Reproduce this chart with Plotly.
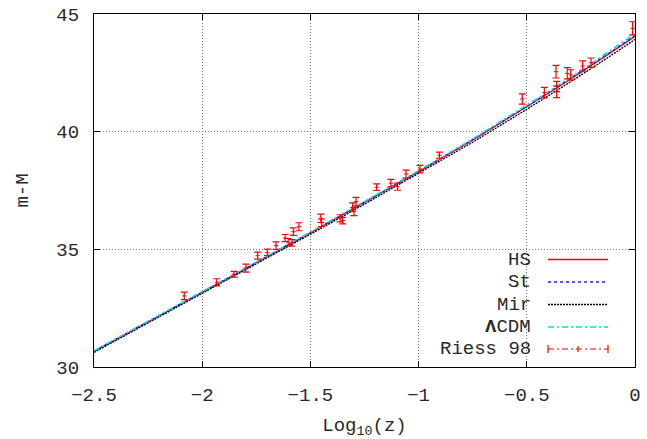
import plotly.graph_objects as go

# ---- model curves ----
x_model = [-2.5, -2.25, -2.0, -1.75, -1.5, -1.25, -1.0, -0.75, -0.5, -0.375, -0.25, -0.125, 0.0]
hs_mu   = [30.66, 31.91, 33.17, 34.43, 35.70, 36.99, 38.30, 39.64, 41.05, 41.78, 42.52, 43.27, 44.05]
st_mu   = [30.67, 31.92, 33.18, 34.44, 35.71, 36.99, 38.31, 39.66, 41.07, 41.80, 42.55, 43.30, 44.08]
mir_mu  = [30.62, 31.87, 33.12, 34.38, 35.64, 36.92, 38.22, 39.55, 40.95, 41.67, 42.40, 43.15, 43.92]
lcdm_mu = [30.69, 31.94, 33.20, 34.46, 35.73, 37.02, 38.34, 39.69, 41.11, 41.85, 42.60, 43.37, 44.16]

# ---- Riess 98 supernovae ----
riess_logz = [-2.083, -1.933, -1.853, -1.798, -1.744, -1.699, -1.659, -1.617, -1.603, -1.585,
              -1.579, -1.553, -1.452, -1.448, -1.363, -1.351, -1.305, -1.299, -1.289, -1.194,
              -1.128, -1.097, -1.058, -0.994, -0.904, -0.521, -0.419, -0.365, -0.362, -0.362,
              -0.313, -0.297, -0.242, -0.203, -0.011]
riess_mu = [33.02, 33.60, 33.94, 34.20, 34.73, 34.87, 35.16, 35.48, 35.31, 35.27,
            35.75, 35.96, 36.32, 36.13, 36.32, 36.22, 36.79, 36.60, 37.03, 37.64,
            37.81, 37.66, 38.20, 38.41, 39.00, 41.39, 41.66, 42.55, 41.92, 41.70,
            42.48, 42.41, 42.79, 42.93, 44.39]
riess_err = [0.16, 0.15, 0.12, 0.17, 0.15, 0.14, 0.16, 0.15, 0.15, 0.14,
             0.16, 0.17, 0.18, 0.16, 0.15, 0.14, 0.18, 0.17, 0.18, 0.14,
             0.16, 0.15, 0.17, 0.16, 0.13, 0.22, 0.22, 0.27, 0.22, 0.25,
             0.24, 0.22, 0.22, 0.20, 0.28]

x_ticks = [-2.5, -2.0, -1.5, -1.0, -0.5, 0.0]
y_ticks = [30, 35, 40, 45]

legend_labels = ["HS", "St", "Mir", "<b>Λ</b>CDM", "Riess 98"]

FONT = "Liberation Mono, Courier New, monospace"
TXT = "#2a2a2a"
RED = "#ff0000"
BLUE = "#2020ff"
CYAN = "#00e0e0"

fig = go.Figure()
fig.add_trace(go.Scatter(x=x_model, y=hs_mu, mode="lines",
                         line=dict(color=RED, width=1.3), showlegend=False))
fig.add_trace(go.Scatter(x=x_model, y=st_mu, mode="lines",
                         line=dict(color=BLUE, width=1.6, dash="dot"), showlegend=False))
fig.add_trace(go.Scatter(x=x_model, y=mir_mu, mode="lines",
                         line=dict(color="black", width=1.3, dash="2px,1px"), showlegend=False))
fig.add_trace(go.Scatter(x=x_model, y=lcdm_mu, mode="lines",
                         line=dict(color=CYAN, width=1.6, dash="6px,3px,2px,3px"), showlegend=False))
fig.add_trace(go.Scatter(x=riess_logz, y=riess_mu, mode="markers",
                         marker=dict(symbol="line-ew", size=3, color=RED,
                                     line=dict(color=RED, width=1)),
                         error_y=dict(type="data", array=riess_err, color=RED,
                                      thickness=1.2, width=3.5),
                         showlegend=False))

# ---- gnuplot-style key (text right-aligned, sample to its right) ----
def py2paper(py):
    return (367 - py) / 353.0

def px2paper(px):
    return (px - 94) / 541.0

rows = [259.5, 282, 304.5, 327, 349]
styles = [dict(color=RED, width=1.3, dash="solid"),
          dict(color=BLUE, width=1.6, dash="dot"),
          dict(color="black", width=1.3, dash="2px,1px"),
          dict(color=CYAN, width=1.6, dash="6px,3px,2px,3px"),
          dict(color=RED, width=1.2, dash="6px,3px,2px,3px")]
x0, x1, xt = px2paper(548), px2paper(608), px2paper(533)
for lab, r, st in zip(legend_labels, rows, styles):
    yp = py2paper(r)
    fig.add_annotation(x=xt, y=yp, xref="paper", yref="paper", text=lab,
                       showarrow=False, xanchor="right", yanchor="middle",
                       font=dict(family=FONT, size=19, color=TXT))
    fig.add_shape(type="line", xref="paper", yref="paper", x0=x0, x1=x1, y0=yp, y1=yp,
                  line=st)
yr = py2paper(349)
dy = 4 / 353.0
for xx in (x0, x1):
    fig.add_shape(type="line", xref="paper", yref="paper", x0=xx, x1=xx,
                  y0=yr - dy, y1=yr + dy, line=dict(color=RED, width=1.2))
xc = px2paper(578)
fig.add_shape(type="line", xref="paper", yref="paper", x0=xc, x1=xc,
              y0=yr - 3 / 353.0, y1=yr + 3 / 353.0, line=dict(color=RED, width=1.2))

axis_common = dict(showline=True, linecolor="black", linewidth=1.2, mirror="ticks",
                   ticks="inside", ticklen=6, tickcolor="black", tickwidth=1,
                   showgrid=True, gridcolor="#777", griddash="1px,2px", gridwidth=1,
                   zeroline=False, automargin=False,
                   tickfont=dict(family=FONT, size=19, color=TXT))

fig.update_layout(
    width=647, height=439,
    margin=dict(l=94, r=12, t=14, b=72),
    paper_bgcolor="white", plot_bgcolor="white",
    font=dict(family=FONT, size=19, color=TXT),
    xaxis=dict(range=[-2.5, 0], tickvals=x_ticks, ticklabelstandoff=10,
               title=dict(text="Log<sub>10</sub>(z)", standoff=12,
                          font=dict(family=FONT, size=19, color=TXT)),
               **axis_common),
    yaxis=dict(range=[30, 45], tickvals=y_ticks, ticklabelstandoff=10,
               title=dict(text="m-M", standoff=22,
                          font=dict(family=FONT, size=19, color=TXT)),
               **axis_common),
    showlegend=False,
)

fig.write_html("out.html")
